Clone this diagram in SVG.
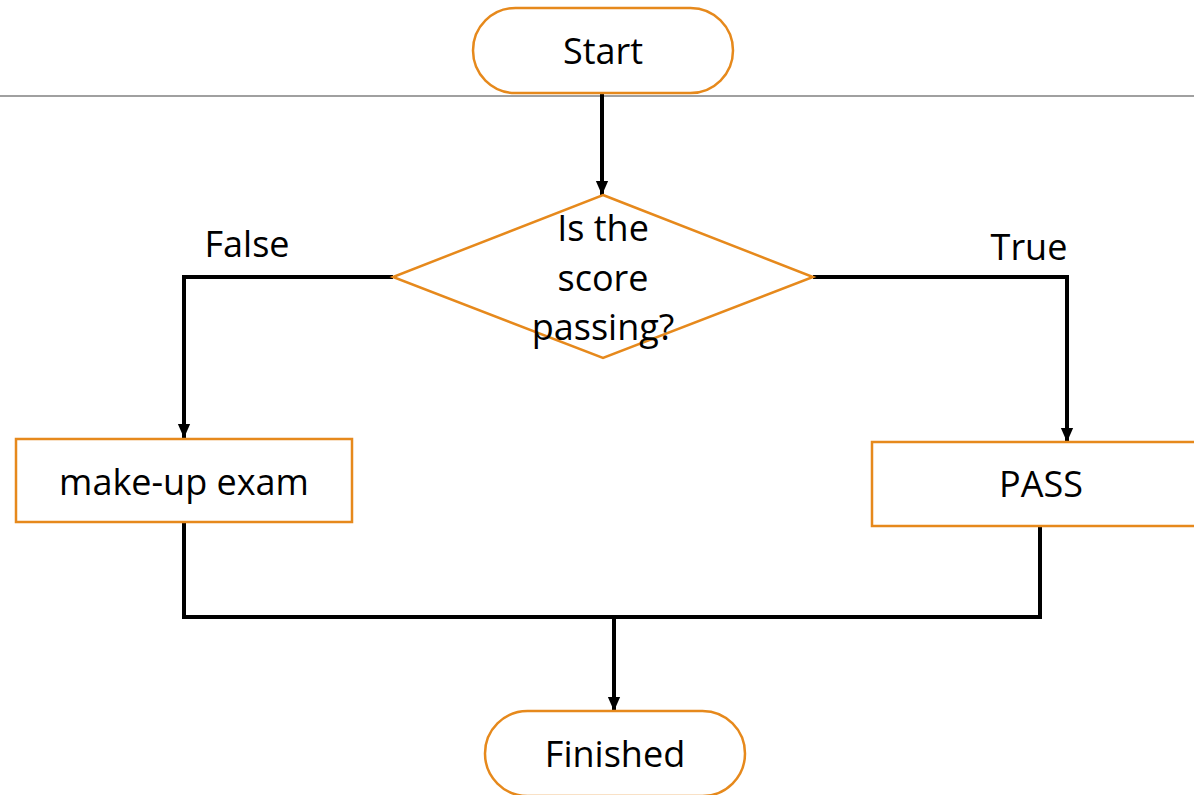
<svg xmlns="http://www.w3.org/2000/svg" width="1194" height="795" viewBox="0 0 1194 795">
<style>
.shape{fill:#fff;stroke:#E6891C;stroke-width:2.5}
.t{font-family:"Open Sans","Liberation Sans",sans-serif;font-size:36px;fill:#000;text-anchor:middle}
.c{fill:none;stroke:#000;stroke-width:4}
</style>
<defs>
<marker id="ah" markerWidth="14" markerHeight="16" refX="16" refY="7" orient="auto" markerUnits="userSpaceOnUse" viewBox="0 0 16 14">
<path d="M0,0 L16,7 L0,14 Z" fill="#000"/>
</marker>
</defs>
<line x1="0" y1="96" x2="1194" y2="96" stroke="#808080" stroke-width="1.5"/>
<g id="connectors">
<path class="c" d="M602,93 V195" marker-end="url(#ah)"/>
<path class="c" d="M393,277 H184 V438" marker-end="url(#ah)"/>
<path class="c" d="M813,277 H1067 V442" marker-end="url(#ah)"/>
<path class="c" d="M184,522 V617 H1040 V526"/>
<path class="c" d="M614,617 V711" marker-end="url(#ah)"/>
</g>
<g id="start">
<rect class="shape" x="473" y="8" width="260" height="85" rx="42.5"/>
<text class="t" x="603" y="64">Start</text>
</g>
<g id="decision">
<polygon class="shape" points="603,195 813,277 603,358 393,277"/>
<text class="t" x="603" y="241">Is the</text>
<text class="t" x="603" y="291">score</text>
<text class="t" x="603" y="340">passing?</text>
</g>
<g id="label-false">
<text class="t" x="247" y="257">False</text>
</g>
<g id="label-true">
<text class="t" x="1029" y="260">True</text>
</g>
<g id="makeup">
<rect class="shape" x="16" y="439" width="336" height="83"/>
<text class="t" x="184" y="495">make-up exam</text>
</g>
<g id="pass">
<rect class="shape" x="872" y="442" width="338" height="84"/>
<text class="t" x="1041" y="497">PASS</text>
</g>
<g id="finished">
<rect class="shape" x="485" y="711" width="260" height="85" rx="42.5"/>
<text class="t" x="615" y="767">Finished</text>
</g>
</svg>
